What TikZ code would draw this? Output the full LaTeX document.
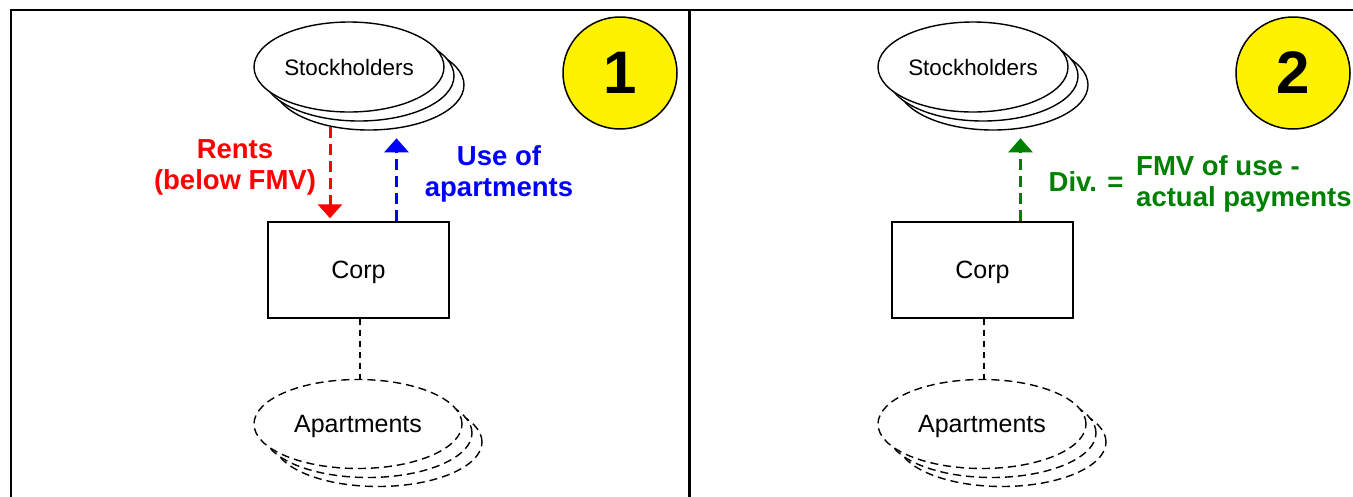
\documentclass[tikz,border=0pt]{standalone}
\usepackage{fontspec}
\setmainfont{Liberation Sans}
\usetikzlibrary{shapes.geometric,arrows.meta,calc}
\tikzset{
  frameline/.style={line width=2.8pt,line cap=rect},
  stack/.style={ellipse,draw,line width=1.4pt,fill=white,inner sep=0pt,minimum width=190pt,minimum height=90pt,font=\fontsize{22.4}{26}\selectfont},
  dstack/.style={ellipse,draw,line width=1.4pt,fill=white,inner sep=0pt,dash pattern=on 8pt off 5pt,minimum width=208pt,minimum height=89pt,text depth=0pt,font=\fontsize{25}{28}\selectfont},
  corpbox/.style={rectangle,draw,line width=1.4pt,minimum width=181pt,minimum height=96pt,inner sep=0pt,text depth=0pt,font=\fontsize{25}{28}\selectfont},
  link/.style={line width=1.4pt},
  dlink/.style={line width=1.4pt,dash pattern=on 6pt off 5pt},
  flow/.style={line width=3pt,dash pattern=on 11pt off 6pt,-{Triangle[width=24pt,length=14pt]}},
  lab/.style={font=\fontsize{27.5}{31}\selectfont\bfseries,inner sep=0pt},
  numcirc/.style={ellipse,draw,line width=1.5pt,fill=yellow,minimum width=114pt,minimum height=112pt,inner sep=0pt,font=\fontsize{60}{62}\selectfont\bfseries},
}
\begin{document}
\begin{tikzpicture}[x=1pt,y=-1pt]
\useasboundingbox (0,0) rectangle (1353,496);
% frame
\draw[frameline] (11,500) -- (11,10) -- (1356,10);
\draw[frameline] (689.5,10) -- (689.5,500);

% ===== Panel 1 =====
\node[stack] (s1c) at (369,85) {};
\node[stack] (s1b) at (359,76) {};
\node[stack] (s1) at (349,67) {Stockholders};
\node[corpbox] (corp1) at (358.5,270) {Corp};
\node[dstack] (a1c) at (378,442) {};
\node[dstack] (a1b) at (368,433) {};
\node[dstack] (a1) at (358,424) {Apartments};
\draw[link] (corp1.north -| 360,0) -- (corp1.north -| 360,0 |- s1c.south);
\draw[dlink] (corp1.south -| 360,0) -- (a1.north -| 360,0);
\coordinate (r1a) at ($(corp1.north)+(-28.5,-94)$);
\coordinate (r1b) at ($(corp1.north)+(-28.5,-3)$);
\coordinate (b1a) at ($(corp1.north)+(38,0)$);
\coordinate (b1b) at ($(corp1.north)+(38,-83)$);
\draw[flow,red] (r1a) -- (r1b);
\draw[flow,blue] (b1a) -- (b1b);
\node[lab,red,align=center] (rents) at (235,167) {Rents\\(below FMV)};
\node[lab,blue,align=center] (use) at (499,174) {Use of\\apartments};
\node[numcirc] (n1) at (620,73) {1};

% ===== Panel 2 =====
\node[stack] (s2c) at (993,85) {};
\node[stack] (s2b) at (983,76) {};
\node[stack] (s2) at (973,67) {Stockholders};
\node[corpbox] (corp2) at (982.5,270) {Corp};
\node[dstack] (a2c) at (1002,442) {};
\node[dstack] (a2b) at (992,433) {};
\node[dstack] (a2) at (982,424) {Apartments};
\draw[link] (corp2.north -| 984,0) -- (corp2.north -| 984,0 |- s2c.south);
\draw[dlink] (corp2.south -| 984,0) -- (a2.north -| 984,0);
\coordinate (g2a) at ($(corp2.north)+(38,0)$);
\coordinate (g2b) at ($(corp2.north)+(38,-83)$);
\draw[flow,green!50!black] (g2a) -- (g2b);
\node[lab,green!50!black] (div) at (1086,182) {Div. =};
\node[lab,green!50!black,align=left,anchor=west] (fmv) at (1136,184) {FMV of use -\\actual payments};
\node[numcirc] (n2) at (1293,73) {2};
\end{tikzpicture}
\end{document}
